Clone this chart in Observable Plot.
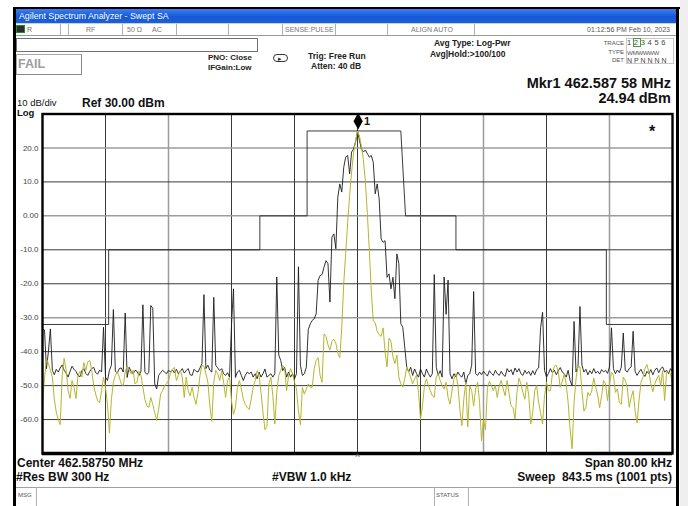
<!DOCTYPE html>
<html><head><meta charset="utf-8">
<script src="https://cdn.jsdelivr.net/npm/d3@7"></script>
<script src="https://cdn.jsdelivr.net/npm/@observablehq/plot@0.6"></script>
<style>
html,body{margin:0;padding:0;background:#fff;}
#screen{position:relative;width:688px;height:506px;overflow:hidden;background:#fff;font-family:'Liberation Sans',Arial,sans-serif;}
#plot{position:absolute;left:0;top:0;}
.t{position:absolute;white-space:pre;}
.box{position:absolute;box-sizing:border-box;}
</style></head>
<body>
<div id="screen"><div id="plot"></div></div>
<script>
// ---- data ----
const spanStartKHz = -40, spanStopKHz = 40, binKHz = 0.25;
const yTicks = [20, 10, 0, -10, -20, -30, -40, -50, -60];
const xGrid = [-32, -24, -16, -8, 0, 8, 16, 24, 32];
const xLight = [-24, 16, 32];
const yLight = [20, 0, -30];
const refLevel = 30, bottomLevel = -70;
const mkrF = 0.08, mkrDb = 24.94;
const maskF = [-40, -31.6, -31.6, -12.4, -12.4, -6.4, -6.4, 5.5, 6.1, 12.5, 12.5, 31.6, 31.6, 40];
const maskDb = [-32, -32, -10, -10, 0, 0, 25, 25, 0, 0, -10, -10, -32, -32];
// trace 2 (peak hold, dark)
const peakHold = [
-33.3,-33.6,-45.0,-40.0,-33.3,-45.5,-46.8,-45.2,-46.0,-44.8,
-43.9,-45.5,-46.3,-47.5,-45.8,-44.3,-45.2,-45.8,-47.0,-47.4,
-45.6,-45.0,-46.4,-47.0,-45.8,-45.0,-44.6,-46.2,-46.6,-45.4,
-46.0,-32.8,-47.5,-48.5,-45.5,-44.0,-27.6,-45.8,-46.3,-45.0,
-44.8,-46.0,-28.6,-47.6,-44.6,-45.8,-46.5,-45.5,-45.8,-47.0,
-45.8,-26.2,-46.0,-46.7,-46.2,-26.4,-27.2,-49.5,-51.0,-47.0,
-46.2,-45.5,-46.0,-46.5,-45.5,-46.0,-45.4,-46.3,-45.2,-46.5,
-45.8,-45.0,-46.3,-45.6,-45.0,-46.8,-47.0,-45.2,-45.8,-46.0,
-44.8,-43.5,-23.2,-45.0,-44.0,-45.5,-46.0,-24.0,-44.0,-44.8,
-45.6,-45.0,-46.5,-47.0,-46.2,-47.5,-32.0,-21.5,-47.6,-46.0,
-45.5,-47.0,-48.5,-47.0,-46.0,-46.5,-46.0,-47.5,-46.5,-48.0,
-46.0,-47.5,-46.5,-45.1,-47.5,-47.0,-46.5,-47.5,-46.5,-18.0,
-41.0,-42.6,-45.6,-44.6,-47.5,-46.0,-47.5,-46.5,-48.0,-46.5,
-15.0,-44.0,-47.0,-46.5,-44.6,-33.5,-31.8,-30.8,-30.3,-28.9,
-19.0,-17.6,-17.3,-15.1,-13.2,-14.1,-25.4,-6.3,-5.3,-9.7,
5.5,9.4,7.0,14.3,17.3,17.8,12.4,18.8,19.7,21.7,
24.94,22.2,19.7,18.8,19.4,18.3,17.3,17.8,15.8,6.5,
9.4,5.0,-6.8,-7.8,-7.3,-18.1,-17.1,-21.5,-18.1,-24.4,
-11.2,-14.1,-31.8,-32.8,-38.7,-44.6,-46.0,-44.6,-47.0,-45.1,
-46.5,-47.5,-45.1,-46.5,-47.5,-45.1,-46.5,-47.5,-46.5,-17.3,
-44.6,-47.0,-45.6,-47.5,-18.0,-29.0,-18.9,-46.5,-48.0,-46.5,
-47.5,-46.0,-47.0,-47.5,-46.0,-49.5,-47.0,-46.5,-44.0,-22.3,
-46.5,-47.0,-46.0,-46.8,-45.8,-46.5,-47.2,-45.6,-46.4,-47.0,
-45.5,-46.5,-47.0,-45.8,-46.8,-47.3,-45.0,-46.0,-45.3,-46.8,
-44.8,-46.0,-45.0,-46.5,-47.0,-45.5,-46.5,-45.8,-47.0,-45.6,
-46.8,-45.3,-44.8,-33.0,-28.4,-45.5,-47.5,-46.4,-45.0,-46.2,
-45.5,-46.8,-45.6,-44.7,-46.0,-46.5,-47.5,-45.5,-48.5,-50.0,
-31.1,-46.0,-44.5,-26.7,-44.0,-46.0,-45.2,-46.8,-45.6,-46.5,
-45.0,-46.3,-45.8,-46.6,-45.3,-46.0,-45.5,-46.4,-44.5,-33.0,
-45.0,-46.5,-45.4,-46.2,-44.5,-34.5,-45.5,-46.0,-45.0,-44.5,
-34.0,-45.8,-47.0,-46.0,-45.2,-46.5,-47.3,-45.8,-46.5,-45.3,
-46.8,-45.5,-44.8,-46.2,-45.0,-44.5,-46.0,-45.5,-46.5,-45.0,-46.0];
// trace 1 (average, yellow)
const average = [
-55.4,-48.0,-42.1,-43.5,-45.5,-47.5,-54.0,-57.8,-60.0,-61.5,
-47.0,-42.0,-45.5,-51.5,-53.8,-48.5,-50.5,-53.8,-47.0,-45.8,
-47.5,-43.2,-45.5,-43.0,-42.6,-45.5,-50.0,-52.5,-54.4,-55.0,
-51.5,-47.5,-50.5,-55.5,-64.0,-54.0,-49.0,-47.0,-45.8,-47.5,
-49.5,-50.0,-46.0,-44.2,-45.5,-46.5,-45.5,-49.5,-49.0,-45.8,
-47.0,-50.5,-54.0,-56.0,-56.4,-53.5,-55.5,-58.0,-60.3,-57.0,
-52.5,-51.5,-50.0,-49.5,-48.5,-46.5,-45.2,-44.6,-48.5,-47.0,
-45.5,-47.5,-53.5,-47.5,-51.5,-53.0,-50.5,-53.5,-55.5,-52.0,
-47.0,-44.0,-44.3,-46.5,-49.0,-56.0,-60.5,-49.0,-45.5,-46.5,
-48.5,-45.8,-49.0,-53.5,-48.5,-47.5,-54.5,-58.5,-56.5,-50.5,
-48.5,-51.0,-54.0,-55.5,-56.5,-57.0,-54.0,-50.5,-48.5,-45.6,
-47.0,-52.0,-58.0,-63.0,-62.0,-49.5,-47.5,-53.0,-61.3,-52.0,
-47.0,-45.5,-44.0,-45.0,-51.5,-47.0,-45.0,-46.5,-49.0,-51.0,
-57.5,-61.5,-50.5,-52.5,-51.0,-49.5,-50.5,-50.5,-45.0,-42.6,
-41.8,-47.0,-49.0,-34.8,-35.5,-38.0,-39.5,-37.0,-36.3,-37.5,
-40.5,-41.8,-33.0,-20.0,-11.0,-2.0,6.0,13.0,18.5,22.0,
24.94,23.5,20.5,16.5,10.0,0.6,-10.0,-22.0,-31.0,-31.5,
-34.0,-35.0,-35.5,-33.0,-40.0,-44.5,-36.0,-37.0,-41.5,-43.5,
-41.0,-47.5,-49.5,-50.5,-48.0,-44.5,-46.0,-47.5,-49.5,-48.0,
-47.0,-52.0,-60.0,-56.0,-50.0,-48.0,-50.0,-51.5,-53.0,-53.4,
-47.5,-46.5,-48.5,-50.0,-51.0,-49.0,-53.5,-55.4,-51.5,-48.0,
-46.5,-50.0,-57.0,-61.8,-54.0,-49.0,-62.2,-50.0,-51.5,-56.0,
-51.0,-49.0,-55.0,-66.2,-60.0,-63.0,-50.5,-48.8,-50.0,-51.5,
-50.0,-53.5,-50.0,-48.5,-51.0,-53.0,-48.5,-52.4,-56.0,-56.5,
-59.8,-52.0,-47.8,-49.5,-52.0,-54.0,-49.0,-53.0,-61.3,-58.0,
-51.5,-50.0,-55.0,-58.0,-61.3,-53.0,-49.0,-51.5,-51.5,-46.5,
-44.3,-44.0,-46.0,-50.5,-48.8,-46.5,-49.5,-55.0,-63.0,-68.6,
-55.0,-48.0,-44.2,-44.5,-51.5,-57.5,-56.4,-52.0,-53.0,-51.5,
-47.8,-50.5,-52.8,-56.5,-53.0,-48.5,-49.5,-54.4,-49.5,-46.0,
-47.0,-52.0,-51.0,-55.0,-55.5,-47.5,-48.5,-50.5,-56.4,-53.5,
-51.5,-57.5,-61.0,-54.4,-49.0,-47.5,-45.0,-43.8,-46.0,-49.5,
-51.8,-49.5,-48.0,-47.0,-50.0,-45.6,-54.4,-46.0,-46.0,-46.5,-49.5];

// ---- build ----
const freqOf = i => spanStartKHz + i * binKHz;
const peakData = peakHold.map((v, i) => ({f: freqOf(i), db: v}));
const avgData = average.map((v, i) => ({f: freqOf(i), db: v}));
const maskData = maskF.map((f, i) => ({f, db: maskDb[i]}));
const tallDiamond = {draw(ctx, size) { const s = Math.sqrt(size); ctx.moveTo(0, -s*0.95); ctx.lineTo(s*0.52, 0); ctx.lineTo(0, s*0.95); ctx.lineTo(-s*0.52, 0); ctx.closePath(); }};
const fmt = d => d === 0 ? "0.00" : d.toFixed(1);

const chart = Plot.plot({
  width: 688, height: 506,
  marginLeft: 42, marginRight: 16, marginTop: 113.5, marginBottom: 53,
  x: {domain: [spanStartKHz, spanStopKHz], axis: null},
  y: {domain: [bottomLevel, refLevel]},
  style: {fontFamily: "'Liberation Sans', Arial, sans-serif", background: "transparent", color: "#444", overflow: "visible"},
  marks: [
    Plot.ruleX(xGrid, {stroke: d => xLight.includes(d) ? "#9c9c9c" : "#3a3a3a", strokeWidth: d => xLight.includes(d) ? 1.5 : 1}),
    Plot.ruleY(yTicks, {stroke: d => yLight.includes(d) ? "#9c9c9c" : "#3a3a3a", strokeWidth: d => yLight.includes(d) ? 1.5 : 1}),
    Plot.line(maskData, {x: "f", y: "db", stroke: "#262626", strokeWidth: 0.9}),
    Plot.line(peakData, {x: "f", y: "db", stroke: "#1c1c1c", strokeWidth: 0.9}),
    Plot.line(avgData, {x: "f", y: "db", stroke: "#b6b62e", strokeWidth: 1}),
    Plot.frame({stroke: "#000", strokeWidth: 2.4}),
    Plot.ruleY([bottomLevel], {stroke: "#000", strokeWidth: 3.5}),
    Plot.axisY(yTicks, {tickSize: 0, tickPadding: 4, tickFormat: fmt, fontSize: 8, label: null, color: "#444"}),
    Plot.dot([{f: mkrF, db: mkrDb}], {x: "f", y: "db", symbol: tallDiamond, r: 5, fill: "#000", stroke: "none", dy: -10}),
    Plot.text([{f: mkrF, db: mkrDb}], {x: "f", y: "db", text: () => "1", dx: 9, dy: -10, fontSize: 11, fontWeight: "bold", fill: "#111", stroke: "#fff", strokeWidth: 2, paintOrder: "stroke"}),
    Plot.text(["*"], {frameAnchor: "top-right", text: d => d, textAnchor: "middle", lineAnchor: "middle", dx: -20.5, dy: 18, fontSize: 16, fontWeight: "bold", fill: "#111"}),
    Plot.text([0], {x: d => d, frameAnchor: "bottom", text: () => "^", lineAnchor: "top", dy: 0, fontSize: 9, fill: "#555"})
  ]
});
document.getElementById("plot").appendChild(chart);

// ---- screen chrome ----
const scr = document.getElementById("screen");
function box(x, y, w, h, css) { const d = document.createElement("div"); d.className = "box"; d.style.cssText += `left:${x}px;top:${y}px;width:${w}px;height:${h}px;` + (css || ""); scr.appendChild(d); return d; }
function lab(txt, x, yc, size, css, right) {
  const d = document.createElement("div"); d.className = "t"; d.textContent = txt;
  const lh = Math.ceil(size);
  d.style.cssText += `top:${yc - lh/2}px;font-size:${size}px;line-height:${lh}px;` + (right ? `right:${688 - x}px;text-align:right;` : `left:${x}px;`) + (css || "");
  scr.appendChild(d); return d;
}
// right outside strip
box(680, 0, 8, 506, "background:#efefef;");
// window borders
box(13, 7, 667, 2, "background:#000;");
box(13, 7, 3, 499, "background:#000;");
box(676, 7, 3, 499, "background:#000;");
// title bar
box(16, 9, 660, 14, "background:linear-gradient(#3d7fee,#1658d8 55%,#1c5fdc);");
lab("Agilent Spectrum Analyzer - Swept SA", 19, 16, 8.8, "color:#fff;");
// status row
box(16, 23, 660, 13, "background:#fff;border-bottom:1px solid #9a9a9a;border-top:1px solid #cfcfcf;");
[60, 68, 122, 176, 228, 282, 335, 387, 474].forEach(x => box(x, 24, 1, 11, "background:#b0b0b0;"));
box(16, 25, 9, 8, "background:#2d2d2d;border:1px solid #1d8a2d;");
lab("R", 27, 29.5, 7, "color:#666;");
lab("RF", 86, 29.5, 7, "color:#777;");
lab("50 Ω", 127, 29.5, 7, "color:#777;");
lab("AC", 152, 29.5, 7, "color:#777;");
lab("SENSE:PULSE", 285, 29.5, 7, "color:#777;");
lab("ALIGN AUTO", 411, 29.5, 7, "color:#777;");
lab("01:12:56 PM Feb 10, 2023", 670, 29.5, 7, "color:#555;", true);
// input box and FAIL box
box(16, 38, 242, 14, "border:1px solid #707070;background:#fff;");
box(16, 54, 66, 21, "border:1px solid #a8a8a8;border-right-color:#888;border-bottom-color:#888;");
lab("FAIL", 18, 64.5, 12.5, "color:#9c9c9c;font-weight:bold;");
// settings
lab("PNO: Close", 208, 58, 8, "font-weight:bold;color:#222;");
lab("IFGain:Low", 208, 68, 8, "font-weight:bold;color:#222;");
box(273, 54, 15, 8, "border:1px solid #333;border-radius:5px;");
lab("▸", 278, 58, 7, "color:#333;");
lab("Trig: Free Run", 308, 56, 8.5, "font-weight:bold;color:#222;");
lab("Atten: 40 dB", 311, 66, 8.5, "font-weight:bold;color:#222;");
lab("Avg Type: Log-Pwr", 434, 43, 8.5, "font-weight:bold;color:#222;");
lab("Avg|Hold:>100/100", 430, 54, 8.5, "font-weight:bold;color:#222;");
// trace table
lab("TRACE", 624, 43, 6, "color:#555;", true);
lab("TYPE", 624, 52, 6, "color:#555;", true);
lab("DET", 624, 60, 6, "color:#555;", true);
box(626, 38, 48, 26, "border:1px solid #c8c8c8;");
box(633, 38, 8, 9, "border:1px solid #39a839;");
lab("1 2 3 4 5 6", 627, 43, 7.5, "color:#444;letter-spacing:0.3px;");
lab("WMWWWW", 627, 52, 6.2, "color:#555;letter-spacing:-0.4px;");
lab("N P N N N N", 627, 60, 7, "color:#444;");
// marker readout
lab("Mkr1 462.587 58 MHz", 671, 83.5, 14.5, "font-weight:bold;color:#111;", true);
lab("24.94 dBm", 671, 98.5, 14.5, "font-weight:bold;color:#111;", true);
// scale labels
lab("10 dB/div", 17, 103, 9.5, "color:#111;");
lab("Log", 17, 113, 9.5, "color:#111;font-weight:bold;");
lab("Ref 30.00 dBm", 82, 103, 12, "color:#111;font-weight:bold;");
// bottom annotations
lab("Center 462.58750 MHz", 17, 462.5, 12, "color:#111;font-weight:bold;");
lab("#Res BW 300 Hz", 16, 476.5, 12, "color:#111;font-weight:bold;");
lab("#VBW 1.0 kHz", 272, 476.5, 12, "color:#111;font-weight:bold;");
lab("Span 80.00 kHz", 672, 462.5, 12, "color:#111;font-weight:bold;", true);
lab("Sweep  843.5 ms (1001 pts)", 672, 476.5, 12, "color:#111;font-weight:bold;", true);
// message bar
box(16, 487, 660, 1, "background:#a0a0a0;");
box(36, 487, 1, 19, "background:#b0b0b0;");
box(434, 487, 1, 19, "background:#b0b0b0;");
box(468, 487, 1, 19, "background:#b0b0b0;");
lab("MSG", 18, 495, 6, "color:#555;");
lab("STATUS", 436, 495, 6, "color:#555;");
</script>
</body></html>
